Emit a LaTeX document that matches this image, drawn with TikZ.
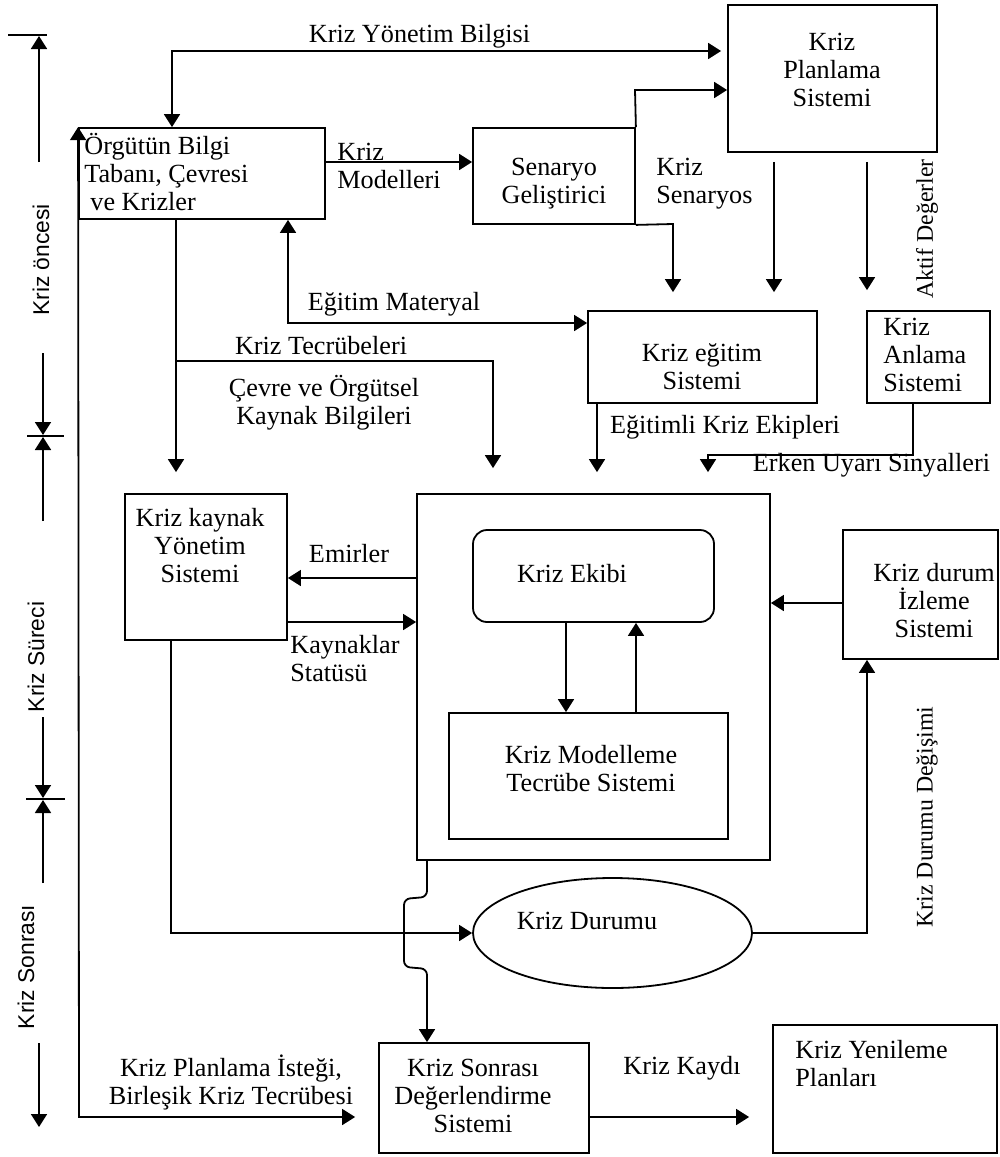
\documentclass[tikz,border=0pt]{standalone}
\usepackage{fontspec}
\setmainfont{Liberation Serif}
\newfontfamily\axisfont{Liberation Sans}
\usetikzlibrary{arrows.meta,shapes.geometric,calc}
\begin{document}
\begin{tikzpicture}[x=0.5pt,y=-0.5pt,
  box/.style={draw, line width=0.9pt, inner sep=0pt, rectangle},
  lbl/.style={inner sep=0pt, font=\fontsize{13.1}{14}\selectfont, align=center},
  lbll/.style={lbl, align=left, anchor=west},
  vlbl/.style={inner sep=0pt, font=\fontsize{11.9}{13}\selectfont, rotate=90},
  axlbl/.style={inner sep=0pt, font=\axisfont\fontsize{11.4}{13}\selectfont, rotate=90},
  conn/.style={line width=0.9pt, -{Triangle[length=6.5pt,width=8pt]}},
  bconn/.style={line width=0.9pt, {Triangle[length=6.5pt,width=8pt]}-{Triangle[length=6.5pt,width=8pt]}},
  plain/.style={line width=0.9pt}
]
\useasboundingbox (0,0) rectangle (1000,1157);

% ---------- boxes ----------
\node[box, minimum width=123pt, minimum height=45.5pt] (org) at (202,173.5) {};
\node[box, minimum width=81pt, minimum height=48pt] (sen) at (554,176) {};
\node[box, minimum width=104.5pt, minimum height=73.5pt] (plan) at (832.5,78.5) {};
\node[box, minimum width=114.5pt, minimum height=46pt] (egit) at (702.5,357) {};
\node[box, minimum width=61.5pt, minimum height=46pt] (anl) at (928.5,357) {};
\node[box, minimum width=81pt, minimum height=73pt] (kay) at (206,567) {};
\node[box, minimum width=176.5pt, minimum height=183pt] (big) at (593.5,677) {};
\node[box, rounded corners=7pt, minimum width=120.5pt, minimum height=46pt] (ekip) at (593.5,576) {};
\node[box, minimum width=139.5pt, minimum height=63pt] (mod) at (588.5,776) {};
\node[box, minimum width=77.5pt, minimum height=64.5pt] (durum) at (920.5,594.5) {};
\node[draw, ellipse, line width=0.9pt, inner sep=0pt, minimum width=139.5pt, minimum height=55pt] (ell) at (612.5,933) {};
\node[box, minimum width=105pt, minimum height=55pt] (son) at (484,1098) {};
\node[box, minimum width=112pt, minimum height=64pt] (yen) at (885,1089) {};

% ---------- box texts ----------
\node[lbll] (orgT) at (84,172) {Örgütün Bilgi\\Tabanı, Çevresi\\\hspace*{3pt}ve Krizler};
\node[lbl] (senT) at (554,183.5) {Senaryo\\Geliştirici};
\node[lbl] (planT) at (832,70) {Kriz\\Planlama\\Sistemi};
\node[lbl] (egitT) at (702,367) {Kriz eğitim\\Sistemi};
\node[lbll] (anlT) at (883,354.5) {Kriz\\Anlama\\Sistemi};
\node[lbl] (kayT) at (200,546) {Kriz kaynak\\Yönetim\\Sistemi};
\node[lbl] (ekipT) at (572,574) {Kriz Ekibi};
\node[lbl] (modT) at (591,769) {Kriz Modelleme\\Tecrübe Sistemi};
\node[lbl] (durumT) at (934,601) {Kriz durum\\İzleme\\Sistemi};
\node[lbl] (ellT) at (587,921) {Kriz Durumu};
\node[lbl] (sonT) at (473,1095.5) {Kriz Sonrası\\Değerlendirme\\Sistemi};
\node[lbll] (yenT) at (795,1064) {Kriz Yenileme\\Planları};

% ---------- connector labels ----------
\node[lbl] (ybT) at (419.5,36) {Kriz Yönetim Bilgisi};
\node[lbll] (kmT) at (337,166) {Kriz\\Modelleri};
\node[lbll] (ksT) at (656,184) {Kriz\\Senaryos};
\node[lbl] (emT) at (394,304) {Eğitim Materyal};
\node[lbl] (ktT) at (321,346) {Kriz Tecrübeleri};
\node[lbl] (cvT) at (324,403) {Çevre ve Örgütsel\\Kaynak Bilgileri};
\node[lbl] (ekT) at (725,427) {Eğitimli Kriz Ekipleri};
\node[lbl] (euT) at (871.5,465) {Erken Uyarı Sinyalleri};
\node[lbl] (emrT) at (349,554) {Emirler};
\node[lbll] (kstT) at (290,659) {Kaynaklar\\Statüsü};
\node[lbl] (istT) at (231,1082) {Kriz Planlama İsteği,\\Birleşik Kriz Tecrübesi};
\node[lbl] (kkT) at (682,1068) {Kriz Kaydı};
\node[vlbl] (akT) at (927,229) {Aktif Değerler};
\node[vlbl] (ddT) at (927,817) {Kriz Durumu Değişimi};

% ---------- phase axis ----------
\node[axlbl] (ph1) at (41,260) {Kriz öncesi};
\node[axlbl] (ph2) at (36,657) {Kriz Süreci};
\node[axlbl] (ph3) at (26,967) {Kriz Sonrası};
\draw[plain] (8,35) -- (47,35);
\draw[conn] (39,162) -- (39,36);
\draw[conn] (43,353) -- (43,435);
\draw[plain] (27,436) -- (64,436);
\draw[conn] (43,521) -- (43,437);
\draw[conn] (43,717) -- (43,798);
\draw[plain] (26,799) -- (65,799);
\draw[conn] (43,883) -- (43,800);
\draw[conn] (39,1043) -- (39,1127);

% ---------- connectors ----------
\coordinate (yb) at (172,51);
\draw[bconn, shorten >=3pt] (org.north -| yb) -- (yb) -- (plan.west |- yb);

\coordinate (km) at (400,162);
\draw[conn] (org.east |- km) -- (sen.west |- km);

\coordinate (sp) at (635,90);
\draw[conn] (sen.north east) -- (sp) -- (plan.west |- sp);

\coordinate (se) at (673,224);
\draw[conn, shorten >=9pt] (sen.south east) -- (se) -- (egit.north -| se);

\coordinate (pa) at (774,0);
\coordinate (pb) at (867,0);
\draw[conn, shorten <=4.5pt, shorten >=9pt] (plan.south -| pa) -- (egit.north -| pa);
\draw[conn, shorten <=4.5pt, shorten >=10pt] (plan.south -| pb) -- (anl.north -| pb);

\coordinate (em) at (288,323);
\draw[bconn] (org.south -| em) -- (em) -- (egit.west |- em);

\coordinate (kt0) at (176,0);
\draw[conn, shorten >=10.5pt] (org.south -| kt0) -- (kay.north -| kt0);
\coordinate (kt1) at (176,361);
\coordinate (kt2) at (493,361);
\draw[conn, shorten >=12.5pt] (kt1) -- (kt2) -- (big.north -| kt2);

\coordinate (ek) at (597,0);
\draw[conn, shorten >=10.5pt] (egit.south -| ek) -- (big.north -| ek);

\coordinate (eu1) at (913,455);
\coordinate (eu2) at (708,455);
\draw[conn, shorten >=10.5pt] (anl.south -| eu1) -- (eu1) -- (eu2) -- (big.north -| eu2);

\coordinate (emr) at (0,578);
\draw[conn] (big.west |- emr) -- (kay.east |- emr);
\coordinate (kst) at (0,622);
\draw[conn] (kay.east |- kst) -- (big.west |- kst);

\coordinate (dz) at (0,603);
\draw[conn] (durum.west |- dz) -- (big.east |- dz);

\coordinate (e1) at (566,0);
\coordinate (e2) at (636,0);
\draw[conn] (ekip.south -| e1) -- (mod.north -| e1);
\draw[conn] (mod.north -| e2) -- (ekip.south -| e2);

\coordinate (kd) at (171,933);
\draw[conn] (kay.south -| kd) -- (kd) -- (ell.west);

\coordinate (dd) at (867,933);
\draw[conn] (ell.east) -- (dd) -- (durum.south -| dd);

\coordinate (jx) at (427,0);
\draw[conn, rounded corners=3pt] (big.south -| jx) -- ++(0,36) -- ++(-23,2) -- ++(0,68) -- ++(23,2) -- (son.north -| jx);

\coordinate (lb) at (79,1117);
\draw[bconn, shorten >=11.5pt] (org.north west) -- (lb) -- (son.west |- lb);

\coordinate (kk) at (0,1117);
\draw[conn, shorten >=11.5pt] (son.east |- kk) -- (yen.west |- kk);
\end{tikzpicture}
\end{document}
